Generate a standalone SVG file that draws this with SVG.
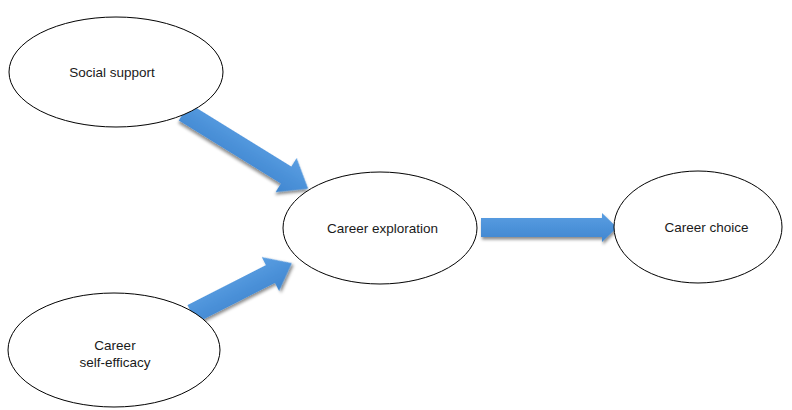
<svg xmlns="http://www.w3.org/2000/svg" width="792" height="410" viewBox="0 0 792 410">
  <defs>
    <linearGradient id="blue" x1="0" y1="0" x2="0" y2="1">
      <stop offset="0" stop-color="#5a9ee2"/>
      <stop offset="1" stop-color="#3f86d0"/>
    </linearGradient>
    <filter id="shadow" x="-20%" y="-40%" width="140%" height="180%">
      <feDropShadow dx="1" dy="2.5" stdDeviation="1.6" flood-color="#000" flood-opacity="0.45"/>
    </filter>
    <style>
      .node ellipse { fill: #fff; stroke: #000; stroke-width: 1; }
      .node text { font-family: "Liberation Sans", Arial, sans-serif; font-size: 13.5px; fill: #1a1a1a; text-anchor: middle; dominant-baseline: central; }
      .arrow { fill: url(#blue); filter: url(#shadow); }
    </style>
  </defs>
  <rect width="792" height="410" fill="#fff"/>

  <g id="connectors">
    <path class="arrow" transform="translate(184,112) rotate(31.7)" d="M0,-10 H120 V-20 L146,0 L120,20 V10 H0 Z"/>
    <path class="arrow" transform="translate(192,314) rotate(-27)" d="M0,-10 H88 V-19 L112,0 L88,19 V10 H0 Z"/>
    <path class="arrow" d="M481,218 H602 V213 L617,227.5 L602,242 V237 H481 Z"/>
  </g>

  <g id="social-support" class="node">
    <ellipse cx="116" cy="72" rx="107" ry="55"/>
    <text x="112" y="72">Social support</text>
  </g>
  <g id="career-self-efficacy" class="node">
    <ellipse cx="114" cy="350" rx="106" ry="57"/>
    <text x="115" y="345">Career</text>
    <text x="115" y="362">self-efficacy</text>
  </g>
  <g id="career-exploration" class="node">
    <ellipse cx="380" cy="228" rx="97" ry="56"/>
    <text x="382.5" y="228">Career exploration</text>
  </g>
  <g id="career-choice" class="node">
    <ellipse cx="698" cy="227" rx="84" ry="56"/>
    <text x="706.5" y="227">Career choice</text>
  </g>
</svg>
